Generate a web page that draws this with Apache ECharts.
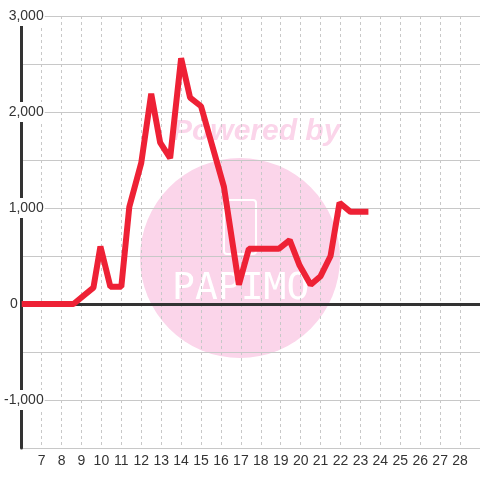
<!DOCTYPE html>
<html>
<head>
<meta charset="utf-8">
<script src="https://cdn.jsdelivr.net/npm/echarts@6/dist/echarts.min.js"></script>
<style>
  html, body { margin: 0; padding: 0; background: #fff; }
  #main { width: 480px; height: 480px; }
</style>
</head>
<body>
<div id="main"></div>
<script>
// x position (day), value
var days = [6, 6.5, 7, 7.5, 8, 8.6, 9.6, 9.95, 10.45, 11, 11.4, 12, 12.5, 12.95, 13.45, 14, 14.45, 15,
  16.15, 16.9, 17.4, 18.9, 19.45, 19.95, 20.5, 21, 21.5, 21.95, 22.5, 23.4]
var values = [0, 0, 0, 0, 0, 0, 170, 600, 180, 180, 1010, 1470, 2190, 1680, 1520, 2560, 2150, 2060,
  1220, 200, 575, 575, 665, 400, 200, 290, 500, 1055, 960, 960]

var xMin = 6
var xMax = 29
var yMin = -1500
var yMax = 3000

var lineData = days.map(function(d, i) { return [d, values[i]] })

var chart = echarts.init(document.getElementById('main'))
chart.setOption({
  animation: false,
  textStyle: { fontFamily: 'Liberation Sans, Arial, sans-serif' },
  grid: { left: 20, right: 0, top: 16, bottom: 32 },
  graphic: [
    { type: 'circle', shape: { cx: 240, cy: 258, r: 100 }, style: { fill: '#fbd5ea' }, z: 0, silent: true },
    { type: 'text', left: 172, top: 117,
      style: { text: 'Powered by', fill: '#fbd5ea', font: 'italic bold 30px Liberation Sans, Arial' }, z: 0, silent: true },
    { type: 'rect', shape: { x: 224, y: 200, width: 32, height: 54, r: 3 },
      style: { fill: 'none', stroke: '#ffffff', lineWidth: 2 }, z: 0, silent: true },
    { type: 'text', left: 172, top: 270,
      style: { text: 'PAPIMO', fill: '#ffffff', font: '38px DejaVu Sans Mono, monospace' }, z: 0, silent: true }
  ],
  xAxis: {
    type: 'value',
    min: xMin,
    max: xMax,
    interval: 1,
    axisLine: { show: false, onZero: false },
    axisTick: { show: false },
    axisLabel: {
      color: '#333', fontSize: 14, margin: 6,
      showMinLabel: false, showMaxLabel: false
    },
    splitLine: { show: true, lineStyle: { color: '#c8c8c8', type: [3, 3], width: 1 } }
  },
  yAxis: {
    type: 'value',
    min: yMin,
    max: yMax,
    interval: 500,
    axisLine: { show: true, lineStyle: { color: '#333', width: 3 } },
    axisTick: { show: false },
    axisLabel: {
      color: '#333', fontSize: 14, margin: -23,
      formatter: function(v) {
        if (v % 1000 !== 0 || v === yMin) return ''
        if (v === 0) return '{z|0}'
        return '{a|' + v.toLocaleString('en-US') + '}'
      },
      rich: {
        a: { color: '#333', fontSize: 14, backgroundColor: '#fff', padding: [3, 1] },
        z: { color: '#333', fontSize: 14, padding: [0, 27, 0, 0] }
      }
    },
    splitLine: { show: true, lineStyle: { color: '#c8c8c8', width: 1 } }
  },
  series: [{
    type: 'line',
    data: lineData,
    symbol: 'none',
    z: 5,
    lineStyle: { color: '#ee2135', width: 6, cap: 'butt', join: 'bevel' },
    markLine: {
      silent: true,
      symbol: 'none',
      label: { show: false },
      z: 3,
      lineStyle: { color: '#333', width: 3, type: 'solid' },
      data: [{ yAxis: 0 }]
    }
  }]
})
</script>
</body>
</html>
